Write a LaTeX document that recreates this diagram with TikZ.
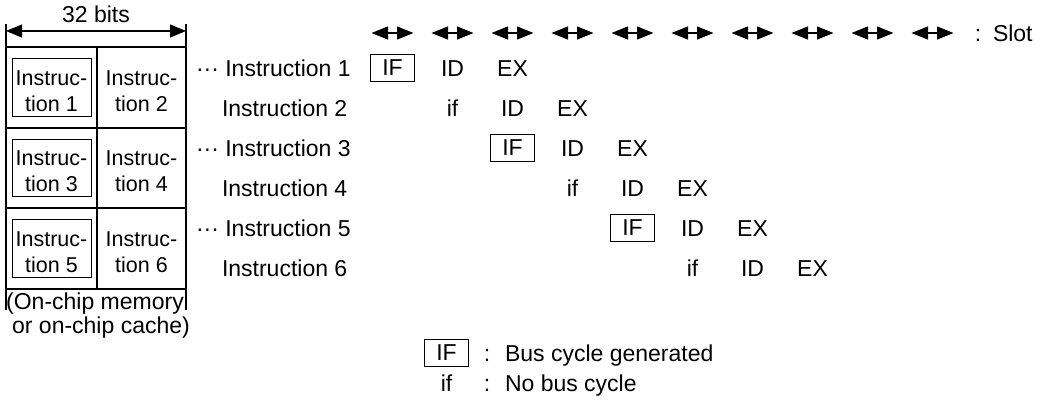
\documentclass[tikz,border=0pt]{standalone}
\usepackage{fontspec}
\setmainfont{Liberation Sans}
\usetikzlibrary{arrows.meta}
\begin{document}
\begin{tikzpicture}[x=1pt,y=-1pt,
  every node/.style={inner sep=0pt, outer sep=0pt, font=\fontsize{23}{27}\selectfont},
  txt/.style={anchor=base},
  celltxt/.style={anchor=base, font=\fontsize{21.5}{25}\selectfont},
  ifbox/.style={draw, line width=0.9pt, minimum width=44pt, minimum height=27pt, anchor=center},
  gridline/.style={line width=1.4pt},
  innerbox/.style={draw, line width=0.9pt},
  slotarrow/.style={line width=1.3pt, {Triangle[length=16.5pt,width=13pt]}-{Triangle[length=16.5pt,width=13pt]}},
  dimarrow/.style={line width=1.1pt, {Triangle[length=16pt,width=13pt]}-{Triangle[length=16pt,width=13pt]}},
]
\useasboundingbox (0,0) rectangle (1045,402);

% ---- 32 bits dimension
\node[txt] (bits) at (96,22) {32 bits};
\coordinate (dl) at (6,31);
\coordinate (dr) at (186,31);
\draw[line width=1.1pt] (6,24) -- (6,47);
\draw[line width=1.1pt] (186,24) -- (186,47);
\draw[dimarrow] (dl) -- (dr);

% ---- memory grid
\draw[gridline] (6,47) rectangle (186,289);
\draw[gridline] (6,128) -- (186,128);
\draw[gridline] (6,208) -- (186,208);
\draw[gridline] (97,47) -- (97,289);
\draw[gridline] (6,289) -- (6,310);
\draw[gridline] (186,289) -- (186,310);

% inner boxes (odd instructions)
\draw[innerbox] (12,58) rectangle (91,116);
\draw[innerbox] (12,139) rectangle (91,196);
\draw[innerbox] (12,219) rectangle (91,277);

% cell texts
\node[celltxt] (m1a) at (51.5,85) {Instruc-};
\node[celltxt] (m1b) at (51.5,111) {tion 1};
\node[celltxt] (m2a) at (141.5,85) {Instruc-};
\node[celltxt] (m2b) at (141.5,111) {tion 2};
\node[celltxt] (m3a) at (51.5,165) {Instruc-};
\node[celltxt] (m3b) at (51.5,191) {tion 3};
\node[celltxt] (m4a) at (141.5,165) {Instruc-};
\node[celltxt] (m4b) at (141.5,191) {tion 4};
\node[celltxt] (m5a) at (51.5,246) {Instruc-};
\node[celltxt] (m5b) at (51.5,272) {tion 5};
\node[celltxt] (m6a) at (141.5,246) {Instruc-};
\node[celltxt] (m6b) at (141.5,272) {tion 6};

\node[txt] (memA) at (95,309) {(On-chip memory};
\node[txt] (memB) at (101,333) {or on-chip cache)};

% ---- slot arrows
\foreach \k in {0,...,9} {
  \coordinate (sa\k) at ({392.5+60*\k-21},33);
  \coordinate (sb\k) at ({392.5+60*\k+21},33);
  \draw[slotarrow] (sa\k) -- (sb\k);
}
\node[txt] (slc) at (978,41) {:};
\node[txt, anchor=base west] (slot) at (993,41) {Slot};

% ---- instruction rows
\node[txt, anchor=base west] (r1) at (196,76) {··· Instruction 1};
\node[txt, anchor=base west] (r2) at (222,116) {Instruction 2};
\node[txt, anchor=base west] (r3) at (196,156) {··· Instruction 3};
\node[txt, anchor=base west] (r4) at (222,196) {Instruction 4};
\node[txt, anchor=base west] (r5) at (196,236) {··· Instruction 5};
\node[txt, anchor=base west] (r6) at (222,276) {Instruction 6};

% pipeline stages
\node[ifbox] (p1a) at (392.5,68) {IF};
\node[txt] (p1b) at (452.5,76) {ID};
\node[txt] (p1c) at (512.5,76) {EX};

\node[txt] (p2a) at (452.5,116) {if};
\node[txt] (p2b) at (512.5,116) {ID};
\node[txt] (p2c) at (572.5,116) {EX};

\node[ifbox] (p3a) at (512.5,148) {IF};
\node[txt] (p3b) at (572.5,156) {ID};
\node[txt] (p3c) at (632.5,156) {EX};

\node[txt] (p4a) at (572.5,196) {if};
\node[txt] (p4b) at (632.5,196) {ID};
\node[txt] (p4c) at (692.5,196) {EX};

\node[ifbox] (p5a) at (632.5,228) {IF};
\node[txt] (p5b) at (692.5,236) {ID};
\node[txt] (p5c) at (752.5,236) {EX};

\node[txt] (p6a) at (692.5,276) {if};
\node[txt] (p6b) at (752.5,276) {ID};
\node[txt] (p6c) at (812.5,276) {EX};

% ---- legend
\node[ifbox] (lg1) at (446.5,353) {IF};
\node[txt] (lg1c) at (487,361) {:};
\node[txt, anchor=base west] (lg1t) at (505,361) {Bus cycle generated};
\node[txt] (lg2) at (446.5,391) {if};
\node[txt] (lg2c) at (487,391) {:};
\node[txt, anchor=base west] (lg2t) at (505,391) {No bus cycle};
\end{tikzpicture}
\end{document}
